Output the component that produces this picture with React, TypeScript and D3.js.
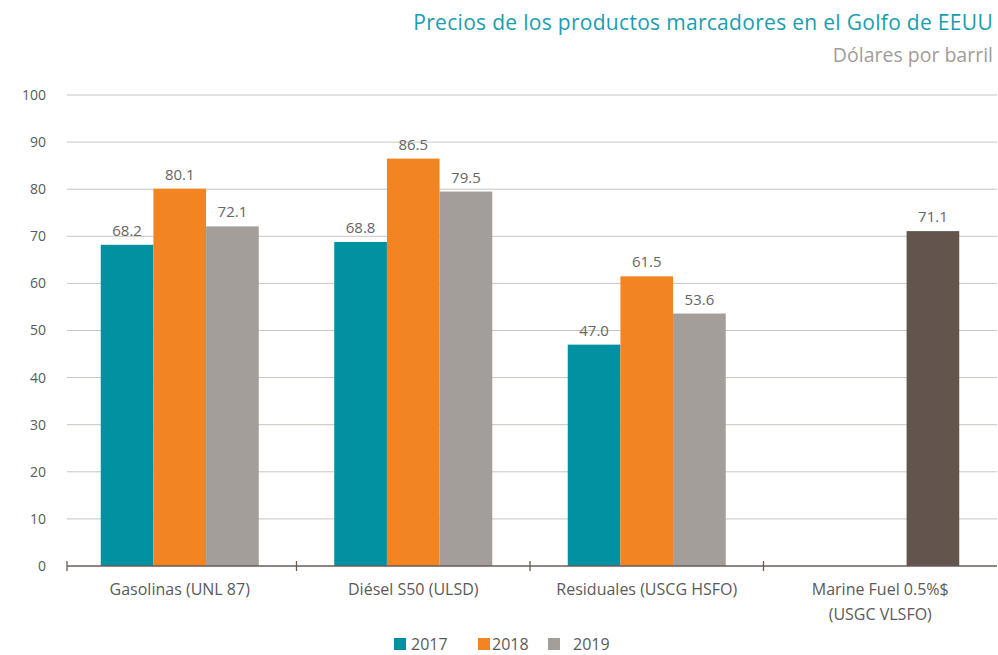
import React from "react";
import * as d3 from "d3";

const categories = ["Gasolinas (UNL 87)", "Diésel S50 (ULSD)", "Residuales (USCG HSFO)", "Marine Fuel 0.5%$|(USGC VLSFO)"];
const series2017 = [68.2, 68.8, 47.0, null];
const series2018 = [80.1, 86.5, 61.5, null];
const series2019 = [72.1, 79.5, 53.6, null];
const seriesMarine = [null, null, null, 71.1];
const yTicks = [0, 10, 20, 30, 40, 50, 60, 70, 80, 90, 100];
const legendLabels = ["2017", "2018", "2019"];

const W = 998, H = 655;
const FONT = "'Open Sans', Roboto, sans-serif";
const colors = { s2017: "#0191a1", s2018: "#f28521", s2019: "#a39e9a", marine: "#63554d" };

export default function App() {
  const y = d3.scaleLinear().domain([0, 100]).range([566, 95]);
  const x = d3.scaleBand<string>().domain(categories).range([63, 997]).paddingInner(0);
  const slots = ["a", "b", "c"];
  const xi = d3.scaleBand<string>().domain(slots).range([0, 158]);
  const off = (x.bandwidth() - 158) / 2;

  const seriesList = [
    { key: "s2017", vals: series2017, slot: "a", color: colors.s2017 },
    { key: "s2018", vals: series2018, slot: "b", color: colors.s2018 },
    { key: "s2019", vals: series2019, slot: "c", color: colors.s2019 },
    { key: "marine", vals: seriesMarine, slot: "c", color: colors.marine },
  ];

  const legendItems = [
    { label: legendLabels[0], color: colors.s2017, sx: 394, tx: 411 },
    { label: legendLabels[1], color: colors.s2018, sx: 478, tx: 492 },
    { label: legendLabels[2], color: colors.s2019, sx: 548, tx: 573 },
  ];

  return (
    <svg width={W} height={H} style={{ position: "absolute", left: 0, top: 0, background: "#fff" }} fontFamily={FONT}>
      <text x={993} y={30} textAnchor="end" fontSize={21} letterSpacing={0.3} fill="#1a9db0">
        Precios de los productos marcadores en el Golfo de EEUU
      </text>
      <text x={993} y={62} textAnchor="end" fontSize={19.5} fill="#a29c98">
        Dólares por barril
      </text>
      {yTicks.map((t) => (
        <g key={t}>
          {t > 0 && <line x1={67} x2={997} y1={y(t)} y2={y(t)} stroke="#c9c5c1" strokeWidth={1} />}
          <text x={46} y={y(t)} dy="0.35em" textAnchor="end" fontSize={14} fill="#5a5a5a">
            {t}
          </text>
        </g>
      ))}
      {seriesList.map((s) =>
        s.vals.map((v, i) => {
          if (v == null) return null;
          const bx = (x(categories[i]) as number) + off + (xi(s.slot) as number);
          const bw = xi.bandwidth();
          return (
            <g key={s.key + i}>
              <rect x={bx} y={y(v)} width={bw} height={y(0) - y(v)} fill={s.color} />
              <text x={bx + bw / 2} y={y(v) - 9} textAnchor="middle" fontSize={15} fill="#666">
                {v.toFixed(1)}
              </text>
            </g>
          );
        })
      )}
      <line x1={67} x2={997} y1={y(0)} y2={y(0)} stroke="#6b5b53" strokeWidth={1.3} />
      {categories.map((c, i) => {
        const bx = i === 0 ? 67 : (x(c) as number);
        return <line key={"t" + i} x1={bx} x2={bx} y1={y(0) - 5} y2={y(0) + 5} stroke="#6b5b53" strokeWidth={1.3} />;
      })}
      {categories.map((c) => {
        const cx = (x(c) as number) + x.bandwidth() / 2;
        const lines = c.split("|");
        return (
          <text key={c} x={cx} y={595} textAnchor="middle" fontSize={16} fill="#5a5a5a">
            {lines.map((l, j) => (
              <tspan key={j} x={cx} dy={j === 0 ? 0 : 25}>
                {l}
              </tspan>
            ))}
          </text>
        );
      })}
      {legendItems.map((l) => (
        <g key={l.label}>
          <rect x={l.sx} y={638} width={12} height={12} fill={l.color} />
          <text x={l.tx} y={650} fontSize={16} fill="#5a5a5a">
            {l.label}
          </text>
        </g>
      ))}
    </svg>
  );
}
